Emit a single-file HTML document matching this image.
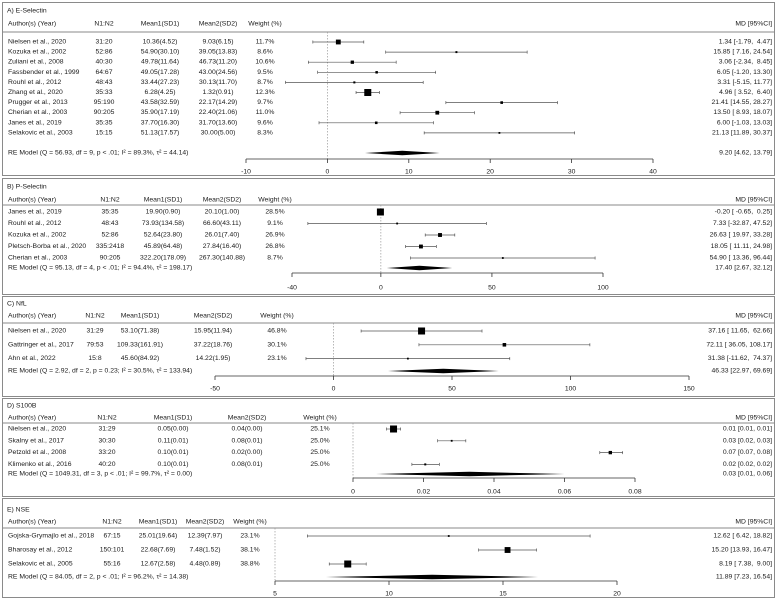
<!DOCTYPE html>
<html><head><meta charset="utf-8">
<style>
html,body{margin:0;padding:0;background:#fff;}
svg{display:block;font-family:"Liberation Sans",sans-serif;}
text{fill:#1a1a1a;font-size:6.8px;white-space:pre;}
</style></head>
<body>
<svg id="chart" width="777" height="599" viewBox="0 0 777 599" xmlns="http://www.w3.org/2000/svg" xml:space="preserve"></svg>
<script>
// ---------- Panel A: E-Selectin ----------
const aAuthors=["Nielsen et al., 2020","Kozuka et al., 2002","Zuliani et al., 2008","Fassbender et al., 1999","Rouhl et al., 2012","Zhang et al., 2020","Prugger et al., 2013","Cherian et al., 2003","Janes et al., 2019","Selakovic et al., 2003"];
const aN=["31:20","52:86","40:30","64:67","48:43","35:33","95:190","90:205","35:35","15:15"];
const aM1=["10.36(4.52)","54.90(30.10)","49.78(11.64)","49.05(17.28)","33.44(27.23)","6.28(4.25)","43.58(32.59)","35.90(17.19)","37.70(16.30)","51.13(17.57)"];
const aM2=["9.03(6.15)","39.05(13.83)","46.73(11.20)","43.00(24.56)","30.13(11.70)","1.32(0.91)","22.17(14.29)","22.40(21.06)","31.70(13.60)","30.00(5.00)"];
const aW=["11.7%","8.6%","10.6%","9.5%","8.7%","12.3%","9.7%","11.0%","9.6%","8.3%"];
const aEst=[1.34,15.85,3.06,6.05,3.31,4.96,21.41,13.50,6.00,21.13];
const aLo=[-1.79,7.16,-2.34,-1.20,-5.15,3.52,14.55,8.93,-1.03,11.89];
const aHi=[4.47,24.54,8.45,13.30,11.77,6.40,28.27,18.07,13.03,30.37];
const aMD=["1.34 [-1.79,  4.47]","15.85 [ 7.16, 24.54]","3.06 [-2.34,  8.45]","6.05 [-1.20, 13.30]","3.31 [-5.15, 11.77]","4.96 [ 3.52,  6.40]","21.41 [14.55, 28.27]","13.50 [ 8.93, 18.07]","6.00 [-1.03, 13.03]","21.13 [11.89, 30.37]"];
const aRE=[9.20,4.62,13.79];
const aTicks=[-10,0,10,20,30,40];

// ---------- Panel B: P-Selectin ----------
const bAuthors=["Janes et al., 2019","Rouhl et al., 2012","Kozuka et al., 2002","Pletsch-Borba et al., 2020","Cherian et al., 2003"];
const bN=["35:35","48:43","52:86","335:2418","90:205"];
const bM1=["19.90(0.90)","73.93(134.58)","52.64(23.80)","45.89(64.48)","322.20(178.09)"];
const bM2=["20.10(1.00)","66.60(43.11)","26.01(7.40)","27.84(16.40)","267.30(140.88)"];
const bW=["28.5%","9.1%","26.9%","26.8%","8.7%"];
const bEst=[-0.20,7.33,26.63,18.05,54.90];
const bLo=[-0.65,-32.87,19.97,11.11,13.36];
const bHi=[0.25,47.52,33.28,24.98,96.44];
const bMD=["-0.20 [ -0.65,  0.25]","7.33 [-32.87, 47.52]","26.63 [ 19.97, 33.28]","18.05 [ 11.11, 24.98]","54.90 [ 13.36, 96.44]"];
const bRE=[17.40,2.67,32.12];
const bTicks=[-40,0,50,100];

// ---------- Panel C: NfL ----------
const cAuthors=["Nielsen et al., 2020","Gattringer et al., 2017","Ahn et al., 2022"];
const cN=["31:29","79:53","15:8"];
const cM1=["53.10(71.38)","109.33(161.91)","45.60(84.92)"];
const cM2=["15.95(11.94)","37.22(18.76)","14.22(1.95)"];
const cW=["46.8%","30.1%","23.1%"];
const cEst=[37.16,72.11,31.38];
const cLo=[11.65,36.05,-11.62];
const cHi=[62.66,108.17,74.37];
const cMD=["37.16 [ 11.65,  62.66]","72.11 [ 36.05, 108.17]","31.38 [-11.62,  74.37]"];
const cRE=[46.33,22.97,69.69];
const cTicks=[-50,0,50,100,150];

// ---------- Panel D: S100B ----------
const dAuthors=["Nielsen et al., 2020","Skalny et al., 2017","Petzold et al., 2008","Klimenko et al., 2016"];
const dN=["31:29","30:30","33:20","40:20"];
const dM1=["0.05(0.00)","0.11(0.01)","0.10(0.01)","0.10(0.01)"];
const dM2=["0.04(0.00)","0.08(0.01)","0.02(0.00)","0.08(0.01)"];
const dW=["25.1%","25.0%","25.0%","25.0%"];
const dEst=[0.0115,0.028,0.073,0.0205];
const dLo=[0.0095,0.024,0.070,0.0167];
const dHi=[0.0135,0.032,0.0765,0.0245];
const dMD=["0.01 [0.01, 0.01]","0.03 [0.02, 0.03]","0.07 [0.07, 0.08]","0.02 [0.02, 0.02]"];
const dRE=[0.033,0.0065,0.060];
const dTicks=[0,0.02,0.04,0.06,0.08];

// ---------- Panel E: NSE ----------
const eAuthors=["Gojska-Grymajlo et al., 2018","Bharosay et al., 2012","Selakovic et al., 2005"];
const eN=["67:15","150:101","55:16"];
const eM1=["25.01(19.64)","22.68(7.69)","12.67(2.58)"];
const eM2=["12.39(7.97)","7.48(1.52)","4.48(0.89)"];
const eW=["23.1%","38.1%","38.8%"];
const eEst=[12.62,15.20,8.19];
const eLo=[6.42,13.93,7.38];
const eHi=[18.82,16.47,9.00];
const eMD=["12.62 [ 6.42, 18.82]","15.20 [13.93, 16.47]","8.19 [ 7.38,  9.00]"];
const eRE=[11.89,7.23,16.54];
const eTicks=[5,10,15,20];

const NS="http://www.w3.org/2000/svg";
const svg=document.getElementById('chart');
function mk(tag,attrs,parent){const e=document.createElementNS(NS,tag);for(const k in attrs)e.setAttribute(k,attrs[k]);(parent||svg).appendChild(e);return e;}
function txt(s,x,y,anchor,parent){const t=mk('text',{x:x,y:y,'text-anchor':anchor||'start','dominant-baseline':'central'},parent);t.textContent=s;return t;}

const panels=[
 {id:'a',title:"A) E-Selectin",authors:aAuthors,n:aN,m1:aM1,m2:aM2,w:aW,est:aEst,lo:aLo,hi:aHi,md:aMD,re:aRE,ticks:aTicks,
  reLabel:"RE Model (Q = 56.93, df = 9, p < .01; I² = 89.3%, τ² = 44.14)",
  box:[2,175],titleY:11,headY:24,hlY:32,rowY0:42,rowStep:10.1,reY:153,axisY:159,tickY:172,px:[246,653],cols:[104,160,218,265]},
 {id:'b',title:"B) P-Selectin",authors:bAuthors,n:bN,m1:bM1,m2:bM2,w:bW,est:bEst,lo:bLo,hi:bHi,md:bMD,re:bRE,ticks:bTicks,
  reLabel:"RE Model (Q = 95.13, df = 4, p < .01; I² = 94.4%, τ² = 198.17)",
  box:[178,294],titleY:187,headY:200,hlY:205,rowY0:212,rowStep:11.5,reY:268,axisY:273,tickY:288,px:[292,603],cols:[110,163,222,275]},
 {id:'c',title:"C) NfL",authors:cAuthors,n:cN,m1:cM1,m2:cM2,w:cW,est:cEst,lo:cLo,hi:cHi,md:cMD,re:cRE,ticks:cTicks,
  reLabel:"RE Model (Q = 2.92, df = 2, p = 0.23; I² = 30.5%, τ² = 133.94)",
  box:[296,396],titleY:304,headY:316,hlY:323,rowY0:331,rowStep:13.8,reY:371,axisY:376,tickY:389,px:[215,689],cols:[95,140,213,277]},
 {id:'d',title:"D) S100B",authors:dAuthors,n:dN,m1:dM1,m2:dM2,w:dW,est:dEst,lo:dLo,hi:dHi,md:dMD,re:dRE,ticks:dTicks,
  reLabel:"RE Model (Q = 1049.31, df = 3, p < .01; I² = 99.7%, τ² = 0.00)",
  box:[398,496],titleY:406,headY:418,hlY:423,rowY0:429,rowStep:11.8,reY:474,axisY:478,tickY:492,px:[353,635],cols:[107,173,247,320]},
 {id:'e',title:"E) NSE",authors:eAuthors,n:eN,m1:eM1,m2:eM2,w:eW,est:eEst,lo:eLo,hi:eHi,md:eMD,re:eRE,ticks:eTicks,
  reLabel:"RE Model (Q = 84.05, df = 2, p < .01; I² = 96.2%, τ² = 14.38)",
  box:[498,597],titleY:510,headY:522,hlY:528,rowY0:536,rowStep:14,reY:577,axisY:581,tickY:594,px:[275,617],cols:[112,158,205,250]}
];

panels.forEach(p=>{
  const g=mk('g',{});
  
  
  const t0=p.ticks[0],t1=p.ticks[p.ticks.length-1];
  const X=v=>p.px[0]+(v-t0)/(t1-t0)*(p.px[1]-p.px[0]);
  const box=mk('rect',{x:2.5,y:p.box[0]+0.5,width:772,height:p.box[1]-p.box[0],fill:'none',stroke:'#8a8a8a','stroke-width':1},g);
  
  
  const ti=txt(p.title,7,p.titleY,'start',g);
  
  
  const hdr=[["Author(s) (Year)",8,'start'],["N1:N2",p.cols[0],'middle'],["Mean1(SD1)",p.cols[1],'middle'],["Mean2(SD2)",p.cols[2],'middle'],["Weight (%)",p.cols[3],'middle'],["MD [95%CI]",772,'end']];
  hdr.forEach(h=>{const e=txt(h[0],h[1],p.headY,h[2],g);
    
    });
  const hl=mk('line',{x1:3,x2:774,y1:p.hlY,y2:p.hlY,stroke:'#8a8a8a','stroke-width':1},g);
  
  
  const refV=(t0<0)?0:t0;
  const ref=mk('line',{x1:X(refV),x2:X(refV),y1:p.hlY,y2:p.axisY,stroke:'#999','stroke-width':0.7,'stroke-dasharray':'1.5,1.5'},g);
  
  
  const prec=p.lo.map((l,i)=>Math.log(1/(p.hi[i]-l)));
  const pmin=Math.min(...prec),pmax=Math.max(...prec);
  p.authors.forEach((a,i)=>{
    const y=p.rowY0+i*p.rowStep;
    const r=mk('g',{},g);
    
    
    txt(a,8,y,'start',r);
    txt(p.n[i],p.cols[0],y,'middle',r);
    txt(p.m1[i],p.cols[1],y,'middle',r);
    txt(p.m2[i],p.cols[2],y,'middle',r);
    txt(p.w[i],p.cols[3],y,'middle',r);
    txt(p.md[i],772,y,'end',r);
    const ci=mk('line',{x1:X(p.lo[i]),x2:X(p.hi[i]),y1:y,y2:y,stroke:'#555','stroke-width':0.7},r);
    
    
    [p.lo[i],p.hi[i]].forEach(v=>{mk('line',{x1:X(v),x2:X(v),y1:y-1.5,y2:y+1.5,stroke:'#555','stroke-width':0.7},r);});
    const s=1.8+5.2*(pmax>pmin?(prec[i]-pmin)/(pmax-pmin):0.5);
    const sq=mk('rect',{x:X(p.est[i])-s/2,y:y-s/2,width:s,height:s,fill:'#000'},r);
    
    
  });
  txt(p.reLabel,8,p.reY,'start',g);
  const mdre=txt(p.re[0].toFixed(2)+" ["+p.re[1].toFixed(2)+", "+p.re[2].toFixed(2)+"]",772,p.reY,'end',g);
  
  
  const dia=mk('polygon',{points:`${X(p.re[1])},${p.reY} ${X(p.re[0])},${p.reY-2.2} ${X(p.re[2])},${p.reY} ${X(p.re[0])},${p.reY+2.2}`,fill:'#000'},g);
  
  
  const ax=mk('g',{},g);
  
  
  mk('line',{x1:X(t0),x2:X(t1),y1:p.axisY,y2:p.axisY,stroke:'#333','stroke-width':0.8},ax);
  p.ticks.forEach(v=>{
    mk('line',{x1:X(v),x2:X(v),y1:p.axisY,y2:p.axisY+4,stroke:'#333','stroke-width':0.8},ax);
    const tl=txt(String(v),X(v),p.tickY,'middle',ax);
    
    
  });
});
</script>
</body></html>
